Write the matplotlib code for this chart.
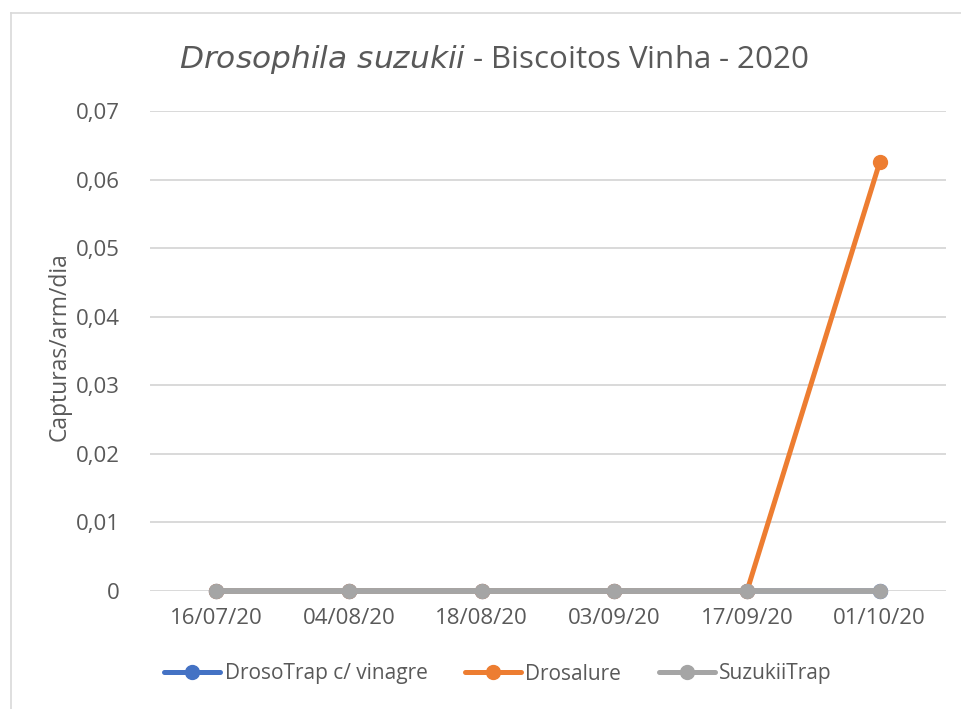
import numpy as np
import matplotlib.pyplot as plt
from matplotlib.lines import Line2D
from matplotlib.ticker import FuncFormatter

# Data
dates = ['16/07/20', '04/08/20', '18/08/20', '03/09/20', '17/09/20', '01/10/20']
drosotrap = [0, 0, 0, 0, 0, 0]
drosalure = [0, 0, 0, 0, 0, 0.0625]
suzukiitrap = [0, 0, 0, 0, 0, 0]

plt.rcParams['font.family'] = ['Open Sans', 'DejaVu Sans']
txt = '#595959'

W, H = 962, 709
fig = plt.figure(figsize=(W / 100, H / 100), dpi=100)
ax = fig.add_axes([150 / W, 1 - 591 / H, (946 - 150) / W, (591 - 111) / H])

x = np.arange(len(dates))
series = [
    ('DrosoTrap c/ vinagre', drosotrap, '#4472C4', 3.6),
    ('Drosalure', drosalure, '#ED7D31', 3.6),
    ('SuzukiiTrap', suzukiitrap, '#A5A5A5', 4.2),  # top series hides the others at 0
]
for i, (name, vals, col, lw) in enumerate(series):
    ax.plot(x, vals, color=col, lw=lw, marker='o', ms=10, label=name,
            solid_capstyle='round', clip_on=False, zorder=3 + i, snap=False)

ax.set_xlim(-0.5, len(dates) - 0.5)
ax.set_ylim(0, 0.07)
ax.set_yticks(np.arange(0, 0.071, 0.01))
ax.yaxis.set_major_formatter(FuncFormatter(
    lambda v, p: '0' if abs(v) < 1e-9 else f'{v:.2f}'.replace('.', ',')))
ax.set_xticks(x)
ax.set_xticklabels(dates)
ax.grid(axis='y', color='#D9D9D9', lw=1.4)
ax.set_axisbelow(True)
for s in ax.spines.values():
    s.set_visible(False)
ax.tick_params(length=0, labelsize=16, colors=txt, pad=12)
ax.tick_params(axis='y', pad=22)
ax.set_ylabel('Capturas/arm/dia', fontsize=16.5, color=txt)
ax.yaxis.set_label_coords(-0.098, 0.51)

fig.text(494 / W, 1 - 60 / H, r'$\it{Drosophila\ suzukii}$ - Biscoitos Vinha - 2020',
         ha='center', va='center', fontsize=22.5, color=txt)

leg = fig.legend(loc='center', bbox_to_anchor=(498 / W, 1 - 674 / H), ncol=3,
                 frameon=False, fontsize=15, handlelength=2.7, columnspacing=1.8,
                 handletextpad=0.2, labelcolor=txt)
for h in leg.get_lines():
    h.set_linewidth(3.6)

# chart border (left/top visible)
fig.add_artist(Line2D([11 / W, 11 / W], [0, 1 - 13 / H], color='#D9D9D9', lw=1.2))
fig.add_artist(Line2D([11 / W, 1], [1 - 13 / H, 1 - 13 / H], color='#D9D9D9', lw=1.2))

fig.savefig('out.png', dpi=100)
